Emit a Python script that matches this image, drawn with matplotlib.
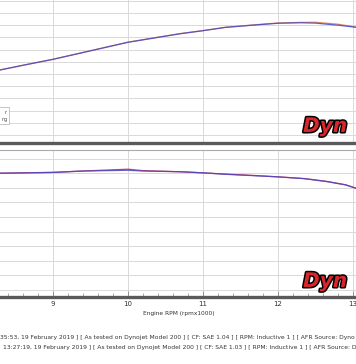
import matplotlib.pyplot as plt
import matplotlib.patheffects as pe
from matplotlib.patches import Rectangle

# Data (rpm x1000)
rpm_pw = [8.29, 8.6, 9.0, 9.5, 10.0, 10.4, 10.7, 11.0, 11.3, 11.7, 12.0, 12.3, 12.5, 12.8, 13.04]
power_a = [133.3, 137.2, 142.0, 149.0, 156.0, 160.0, 163.0, 165.5, 168.2, 170.2, 171.6, 172.0, 171.7, 170.0, 168.3]
power_b = [133.2, 137.1, 142.1, 149.1, 156.1, 160.2, 163.2, 165.6, 168.3, 170.4, 171.8, 172.3, 172.4, 170.8, 168.5]

rpm_tq = [8.29, 9.0, 9.4, 10.0, 10.2, 10.7, 11.0, 11.3, 11.7, 12.0, 12.35, 12.65, 12.9, 13.04]
torque_a = [74.0, 74.1, 74.3, 74.4, 74.3, 74.2, 74.05, 73.85, 73.65, 73.5, 73.25, 72.85, 72.4, 71.93]
torque_b = [74.0, 74.12, 74.3, 74.55, 74.35, 74.2, 74.05, 73.88, 73.68, 73.5, 73.27, 72.88, 72.42, 71.95]

xticks = [9, 10, 11, 12, 13]
footer = [
    "35:53, 19 February 2019 ] [ As tested on Dynojet Model 200 ] [ CF: SAE 1.04 ] [ RPM: Inductive 1 ] [ AFR Source: Dyno",
    "13:27:19, 19 February 2019 ] [ As tested on Dynojet Model 200 ] [ CF: SAE 1.03 ] [ RPM: Inductive 1 ] [ AFR Source: D",
]

W, H = 356, 364
fig = plt.figure(figsize=(W / 100, H / 100), dpi=100)


def px(x0, y0, x1, y1):
    # pixel box -> figure fraction [left, bottom, width, height]
    return [x0 / W, 1 - y1 / H, (x1 - x0) / W, (y1 - y0) / H]


grid_c = '#d9d9d9'
spine_c = '#5a5a5a'
xlim = (8.293, 13.04)

ax1 = fig.add_axes(px(0, 0, W, 143))
ax1.plot(rpm_pw, power_b, color='#e0885a', lw=0.9)
ax1.plot(rpm_pw, power_a, color='#4646c8', lw=0.9, alpha=0.85)
ax1.set_xlim(*xlim)
ax1.set_ylim(73.44, 190.66)
ax1.set_yticks(range(80, 191, 10))
ax1.set_xticks(xticks)
ax1.grid(True, color=grid_c, lw=0.7)
ax1.tick_params(left=False, bottom=False, labelleft=False, labelbottom=False)
for s in ['top', 'left', 'right']:
    ax1.spines[s].set_visible(False)
ax1.spines['bottom'].set_color(spine_c)
ax1.spines['bottom'].set_linewidth(2.4)

ax2 = fig.add_axes(px(0, 150, W, 297))
ax2.plot(rpm_tq, torque_b, color='#d83c50', lw=0.9)
ax2.plot(rpm_tq, torque_a, color='#4646c8', lw=0.9, alpha=0.85)
ax2.set_xlim(*xlim)
ax2.set_ylim(57.04, 77.18)
ax2.set_yticks(range(58, 77, 2))
ax2.set_xticks(xticks)
ax2.set_xticks([8.4 + 0.2 * i for i in range(24)], minor=True)
ax2.grid(True, color=grid_c, lw=0.7)
ax2.tick_params(left=False, labelleft=False)
ax2.tick_params(axis='x', which='both', direction='in', color='#888888', labelsize=5, pad=3, labelcolor='#333333')
ax2.tick_params(axis='x', which='major', length=4, width=0.6)
ax2.tick_params(axis='x', which='minor', length=3, width=0.5)
for s in ['left', 'right']:
    ax2.spines[s].set_visible(False)
ax2.spines['top'].set_color('#aaaaaa')
ax2.spines['top'].set_linewidth(0.8)
ax2.spines['bottom'].set_color(spine_c)
ax2.spines['bottom'].set_linewidth(2.4)

fig.text(179 / W, 1 - 313 / H, "Engine RPM (rpmx1000)", ha='center', va='center', fontsize=4.2, color='#333333')
fig.text(0 / W, 1 - 337 / H, footer[0], ha='left', va='center', fontsize=4.3, color='#333333')
fig.text(3 / W, 1 - 347 / H, footer[1], ha='left', va='center', fontsize=4.3, color='#333333')

# small legend box cut off at the left edge
fig.patches.append(Rectangle((-20 / W, 1 - 124 / H), 29 / W, 17 / H, transform=fig.transFigure,
                             facecolor='white', edgecolor='#bbbbbb', lw=0.6))
fig.text(7 / W, 1 - 112 / H, "r", ha='right', va='center', fontsize=3.5, color='#444444')
fig.text(8 / W, 1 - 120 / H, "ng", ha='right', va='center', fontsize=3.5, color='#444444')

# Dynojet logo text (cut at the right edge like the original)
for base in (132, 287):
    fig.text(303 / W, 1 - base / H, "Dyn", ha='left', va='baseline', fontsize=14.5,
             fontweight='bold', style='italic', color='#d8262a',
             path_effects=[pe.withStroke(linewidth=2.2, foreground='black')])

plt.savefig('out.png', dpi=100)
